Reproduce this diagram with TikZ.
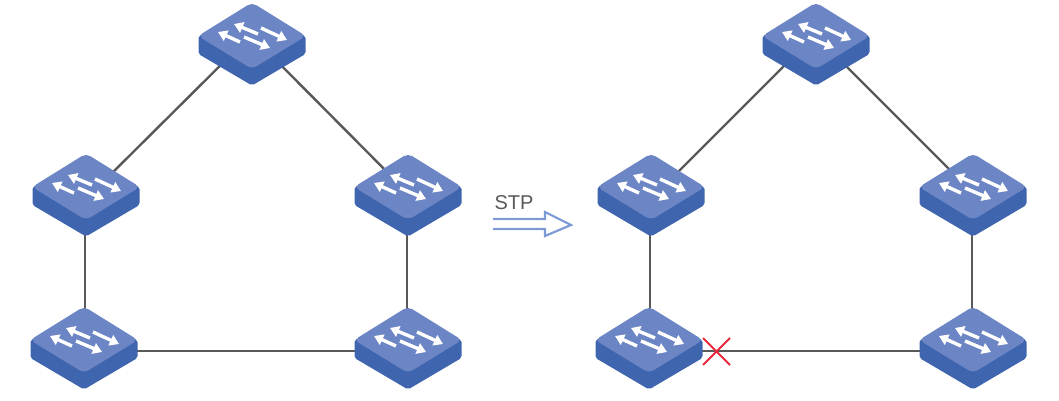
\documentclass[tikz,border=0pt]{standalone}
\usepackage{fontspec}
\setmainfont{Liberation Sans}
\definecolor{facetop}{HTML}{6C86C5}
\definecolor{faceside}{HTML}{3F65AE}
\definecolor{linkgray}{HTML}{595959}
\definecolor{stpblue}{HTML}{7F9BD6}
\definecolor{crossred}{HTML}{E8283C}
\usetikzlibrary{arrows.meta}
\tikzset{
    link/.style={linkgray, line width=2.4pt},
    flow/.style={white, line width=3.4pt, -{Stealth[length=9pt,width=11pt,inset=0pt]}},
    switch/.pic={
        \fill[faceside, rounded corners=2pt] (-53.5,0) -- (-53.5,18) -- (0,49.5) -- (53.5,18) -- (53.5,0) -- (0,-20) -- cycle;
        \fill[facetop, rounded corners=5pt] (0,-33.5) -- (54,0) -- (0,33) -- (-54,0) -- cycle;
        \draw[flow] (6,-2) -- (-18,-12); % upper left
        \draw[flow] (9,-8) -- (35,4); % upper right
        \draw[flow] (-12,6) -- (-34,-4); % lower left
        \draw[flow] (-8,1) -- (18,12); % lower right
    }
}
\begin{document}
\begin{tikzpicture}[x=1pt,y=-1pt]
    \useasboundingbox (0,0) rectangle (1059,400);
    % left ring
    \coordinate (A1) at (252, 36);
    \coordinate (A2) at (86, 187);
    \coordinate (A3) at (408, 187);
    \coordinate (A4) at (84, 340);
    \coordinate (A5) at (408, 340);
    % right ring
    \coordinate (B1) at (816, 36);
    \coordinate (B2) at (651, 187);
    \coordinate (B3) at (973, 187);
    \coordinate (B4) at (649, 340);
    \coordinate (B5) at (973, 340);
    % cut on the blocked link
    \coordinate (C1) at (703, 338);
    \coordinate (C2) at (730, 365);
    \coordinate (C3) at (730, 338);
    \coordinate (C4) at (703, 365);
    % transition arrow
    \coordinate (S1) at (493, 219);
    \coordinate (S2) at (545, 219);
    \coordinate (S3) at (545, 212);
    \coordinate (S4) at (571, 225);
    \coordinate (S5) at (545, 236);
    \coordinate (S6) at (545, 229);
    \coordinate (S7) at (493, 229);

    \draw[link] ([xshift=-2]A1) -- ([xshift=12]A2); % top left
    \draw[link] (A1) -- ([xshift=-6]A3); % top right
    \draw[link] ([xshift=-1]A2) -- ([xshift=1]A4); % left
    \draw[link] ([xshift=-1]A3) -- ([xshift=-1]A5); % right
    \draw[link] ([yshift=-11]A4) -- ([yshift=-11]A5); % bottom

    \draw[link] ([xshift=-2]B1) -- ([xshift=12]B2);
    \draw[link] (B1) -- ([xshift=-6]B3);
    \draw[link] ([xshift=-1]B2) -- ([xshift=1]B4);
    \draw[link] ([xshift=-1]B3) -- ([xshift=-1]B5);
    \draw[link] ([yshift=-11]B4) -- ([yshift=-11]B5);

    \foreach \i in {A1,A2,A3,A4,A5,B1,B2,B3,B4,B5}
        \pic at (\i) {switch};

    \draw[crossred, line width=2pt] (C1) -- (C2);
    \draw[crossred, line width=2pt] (C3) -- (C4);

    \node[text=linkgray, font=\fontsize{20}{24}\selectfont, inner sep=0pt] (stp) at (514, 203) {STP};
    \draw[stpblue, line width=2.2pt, line join=miter] (S1) -- (S2) -- (S3) -- (S4) -- (S5) -- (S6) -- (S7);
\end{tikzpicture}
\end{document}
